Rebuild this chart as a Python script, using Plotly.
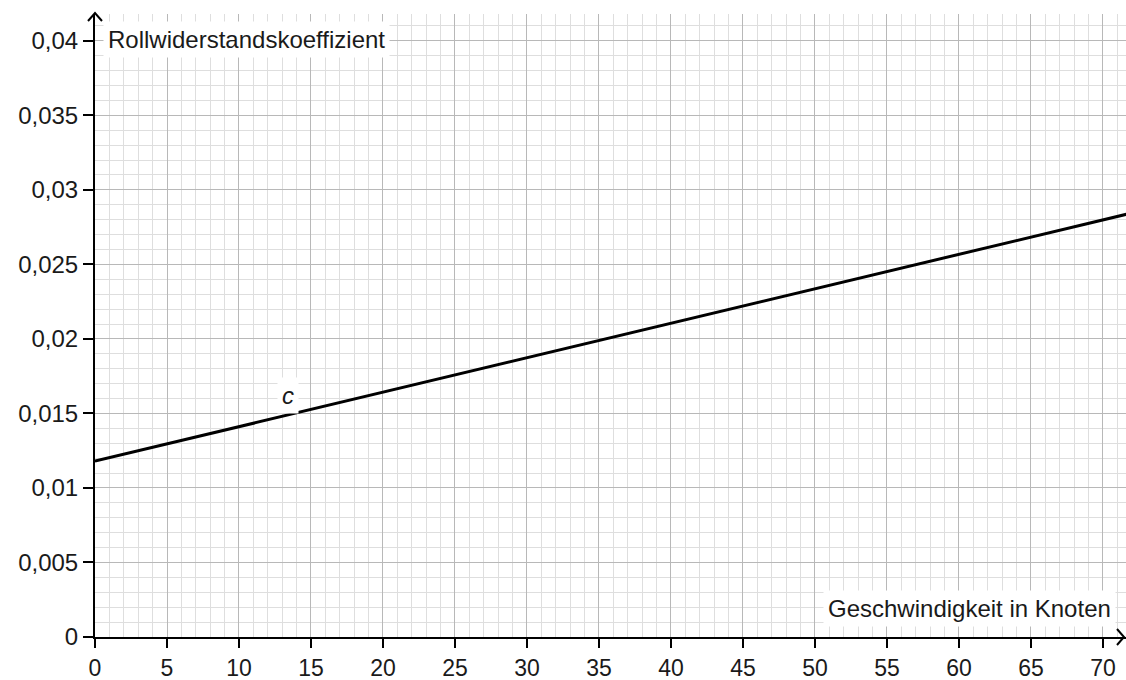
import plotly.graph_objects as go

# Data
knots = [0, 72]
c_values = [0.0118, 0.02845]

x_tickvals = [0, 5, 10, 15, 20, 25, 30, 35, 40, 45, 50, 55, 60, 65, 70]
x_ticktext = [str(v) for v in x_tickvals]
y_tickvals = [0, 0.005, 0.01, 0.015, 0.02, 0.025, 0.03, 0.035, 0.04]
y_ticktext = ["0", "0,005", "0,01", "0,015", "0,02", "0,025", "0,03", "0,035", "0,04"]

FONT = "Liberation Sans"
TXT = "#1a1a1a"

fig = go.Figure()
fig.add_trace(go.Scatter(x=knots, y=c_values, mode="lines",
                         line=dict(color="black", width=3), showlegend=False,
                         hoverinfo="skip"))

fig.update_layout(
    width=1126, height=680,
    margin=dict(l=95, r=0, t=14, b=43, autoexpand=False),
    paper_bgcolor="white", plot_bgcolor="white",
    font=dict(family=FONT, size=24, color=TXT),
    xaxis=dict(range=[0, 71.6], tickvals=x_tickvals, ticktext=x_ticktext,
               automargin=False,
               showgrid=True, gridcolor="#b8b8b8", gridwidth=1,
               minor=dict(dtick=1, tick0=0, showgrid=True, gridcolor="#dedede", gridwidth=1),
               showline=True, linecolor="black", linewidth=2,
               ticks="outside", ticklen=9, tickwidth=2, tickcolor="black",
               zeroline=False, fixedrange=True,
               tickfont=dict(family=FONT, size=23, color=TXT)),
    yaxis=dict(range=[0, 0.0418], tickvals=y_tickvals, ticktext=y_ticktext,
               automargin=False,
               showgrid=True, gridcolor="#b8b8b8", gridwidth=1,
               minor=dict(dtick=0.001, tick0=0, showgrid=True, gridcolor="#dedede", gridwidth=1),
               showline=True, linecolor="black", linewidth=2,
               ticks="outside", ticklen=10, tickwidth=2, tickcolor="black",
               zeroline=False, fixedrange=True,
               tickfont=dict(family=FONT, size=24, color=TXT)),
)

# axis arrows
fig.add_shape(type="path", xref="paper", yref="paper", xsizemode="pixel", ysizemode="pixel",
              xanchor=0, yanchor=1, path="M -7,-7 L 0,1 L 7,-7",
              line=dict(color="black", width=2))
fig.add_shape(type="path", xref="paper", yref="paper", xsizemode="pixel", ysizemode="pixel",
              xanchor=1, yanchor=0, path="M -9,8 L -2,0 L -9,-8",
              line=dict(color="black", width=2))

fig.add_annotation(x=0.55, y=0.0401, xref="x", yref="y", text="Rollwiderstandskoeffizient",
                   showarrow=False, xanchor="left", yanchor="middle", bgcolor="white",
                   borderpad=4, font=dict(family=FONT, size=24, color=TXT))
fig.add_annotation(x=70.9, y=0.0019, xref="x", yref="y", text="Geschwindigkeit in Knoten",
                   showarrow=False, xanchor="right", yanchor="middle", bgcolor="white",
                   borderpad=4, font=dict(family=FONT, size=24, color=TXT))
fig.add_annotation(x=13.4, y=0.0162, xref="x", yref="y", text="<i>c</i>",
                   showarrow=False, xanchor="center", yanchor="middle", bgcolor="white",
                   borderpad=4, font=dict(family=FONT, size=24, color=TXT))

fig.write_html("out.html", config={"displayModeBar": False},
               post_script="document.body.style.margin='0px';")
